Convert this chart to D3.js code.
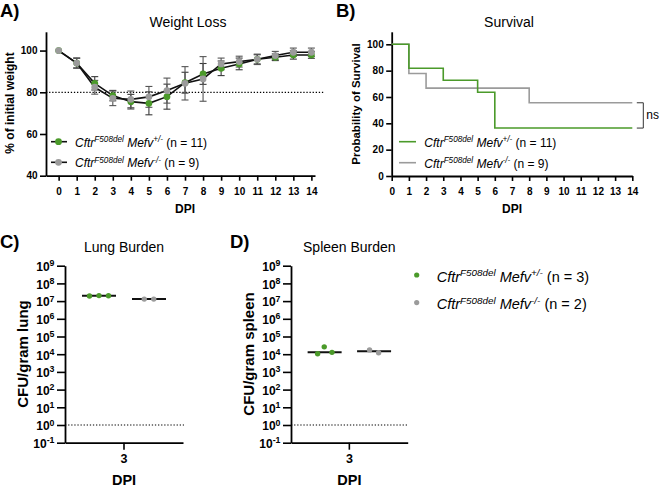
<!DOCTYPE html>
<html><head><meta charset="utf-8">
<script src="https://cdn.jsdelivr.net/npm/d3@7"></script>
<style>html,body{margin:0;padding:0;background:#fff;}svg{display:block;}</style>
</head><body>
<svg id="chart" width="660" height="488"></svg>
<script>
// ---------- DATA ----------
const days = [0,1,2,3,4,5,6,7,8,9,10,11,12,13,14];
const weightHet   = [100, 94, 84.3, 78.4, 75.5, 74.7, 77.9, 84.6, 88.8, 91.5, 93.6, 95.8, 96.8, 97.9, 97.9];
const weightHetSD = [0, 2.3, 3.2, 2.5, 3.5, 5.5, 6, 5, 5, 3.5, 2.8, 2.2, 1.6, 2, 1.6];
const weightKo    = [100, 94, 82.4, 77.1, 76.6, 77.8, 80.8, 84.3, 86.4, 93.6, 94.7, 95.8, 97.6, 99.2, 99.2];
const weightKoSD  = [0, 2.5, 3.3, 3.5, 4, 5, 6, 8, 10.7, 2.8, 2.6, 2.5, 2, 2, 2];
const weightTicksY = [40, 60, 80, 100];

const survHetT = [0, 1, 3, 5, 6, 14];
const survHetV = [100, 81.8, 72.7, 63.6, 36.4, 36.4];
const survKoT  = [0, 1, 2, 8, 14];
const survKoV  = [100, 77.8, 66.7, 55.6, 55.6];
const survTicksY = [0, 20, 40, 60, 80, 100];

const burdenDPI = ["3"];
const groups = ["het", "ko"];
const lungHet = [2.0e7, 2.05e7, 1.95e7];
const lungKo  = [1.3e7, 1.3e7];
const spleenHet = [1.07e4, 2.6e4, 1.27e4];
const spleenKo  = [1.2e4, 1.75e4];
const logExponents = [-1,0,1,2,3,4,5,6,7,8,9];

const legendAB = [{g:"+/-", n:"(n = 11)"}, {g:"-/-", n:"(n = 9)"}];
const legendD  = [{g:"+/-", n:"(n = 3)"}, {g:"-/-", n:"(n = 2)"}];

// ---------- STYLE ----------
const FONT = "'Liberation Sans', Arial, Helvetica, sans-serif";
const GREEN = "#4b9a2a", GRAY = "#9b9b9b";
const svg = d3.select("#chart").style("font-family", FONT);

function styleAxis(g, fs) {
  g.selectAll("path.domain").attr("stroke", "#000").attr("stroke-width", 1.8);
  g.selectAll(".tick line").attr("stroke", "#000").attr("stroke-width", 1.6);
  g.selectAll(".tick text").attr("font-family", FONT).attr("font-weight", "bold")
    .attr("font-size", fs).attr("fill", "#000");
}
function geno(textSel, fs, sup, n) {
  const s = fs * 0.68, sh = fs * 0.36;
  textSel.append("tspan").attr("font-style", "italic").text("Cftr");
  textSel.append("tspan").attr("font-style", "italic").attr("font-size", s).attr("dy", -sh).text("F508del");
  textSel.append("tspan").attr("font-style", "italic").attr("dy", sh).text("\u00a0Mefv");
  textSel.append("tspan").attr("font-style", "italic").attr("font-size", s).attr("dy", -sh).text(sup);
  textSel.append("tspan").attr("dy", sh).text("\u00a0" + n);
}
function label(x, y, txt, fs, weight, anchor, rot) {
  const t = svg.append("text").attr("x", x).attr("y", y).attr("font-size", fs)
    .attr("font-weight", weight || "normal").attr("text-anchor", anchor || "middle").attr("fill", "#000").text(txt);
  if (rot) t.attr("transform", `rotate(-90 ${x} ${y})`);
  return t;
}

// ---------- PANEL A: Weight loss ----------
{
  const x = d3.scaleLinear().domain([-0.7, 14.2]).range([46, 315]);
  const y = d3.scaleLinear().domain([40, 109]).range([175.7, 31.8]);
  label(0, 16.7, "A)", 18.5, "bold", "start");
  label(188, 26.5, "Weight Loss", 14);
  // dotted 80 line
  svg.append("line").attr("x1", x.range()[0]).attr("x2", 325).attr("y1", y(80)).attr("y2", y(80))
    .attr("stroke", "#000").attr("stroke-width", 1.2).attr("stroke-dasharray", "1.3,1.8");
  const gx = svg.append("g").attr("transform", `translate(0,${y.range()[0]})`)
    .call(d3.axisBottom(x).tickValues(days).tickSize(5).tickSizeOuter(0).tickPadding(7));
  styleAxis(gx, 10);
  const gy = svg.append("g").attr("transform", `translate(${x.range()[0]},0)`)
    .call(d3.axisLeft(y).tickValues(weightTicksY).tickSize(6).tickSizeOuter(0).tickPadding(2.5));
  styleAxis(gy, 10);
  label(185, 213.3, "DPI", 12, "bold");
  label(13.5, 103, "% of initial weight", 12, "bold", "middle", true);

  const series = [
    {m: weightHet, sd: weightHetSD, col: GREEN, ecol: "#3a3a3a"},
    {m: weightKo,  sd: weightKoSD,  col: GRAY,  ecol: "#555"}
  ];
  const line = d3.line().x((d, i) => x(days[i])).y(d => y(d));
  series.forEach(s => {
    const eb = svg.append("g").attr("stroke", s.ecol).attr("stroke-width", 1.1);
    days.forEach((dd, i) => {
      if (!s.sd[i]) return;
      const lo = y(s.m[i] - s.sd[i]), hi = y(s.m[i] + s.sd[i]), cx = x(dd);
      eb.append("line").attr("x1", cx).attr("x2", cx).attr("y1", lo).attr("y2", hi);
      eb.append("line").attr("x1", cx - 3.5).attr("x2", cx + 3.5).attr("y1", lo).attr("y2", lo);
      eb.append("line").attr("x1", cx - 3.5).attr("x2", cx + 3.5).attr("y1", hi).attr("y2", hi);
    });
  });
  series.forEach(s => {
    svg.append("path").datum(s.m).attr("d", line).attr("fill", "none").attr("stroke", "#111").attr("stroke-width", 1.6);
  });
  series.forEach(s => {
    svg.append("g").selectAll("circle").data(s.m).join("circle")
      .attr("cx", (d, i) => x(days[i])).attr("cy", d => y(d)).attr("r", 3.4).attr("fill", s.col);
  });
  // legend
  legendAB.forEach((L, i) => {
    const ly = 141.7 + i * 20.6;
    svg.append("line").attr("x1", 51).attr("x2", 67).attr("y1", ly).attr("y2", ly).attr("stroke", "#111").attr("stroke-width", 1.6);
    svg.append("circle").attr("cx", 58.5).attr("cy", ly).attr("r", 3.4).attr("fill", i ? GRAY : GREEN);
    const t = svg.append("text").attr("x", 75).attr("y", ly + 5).attr("font-size", 12).attr("fill", "#000");
    geno(t, 12, L.g, L.n);
  });
}

// ---------- PANEL B: Survival ----------
{
  const x = d3.scaleLinear().domain([0, 14]).range([391.7, 632.3]);
  const y = d3.scaleLinear().domain([0, 109.5]).range([176, 31.8]);
  label(336, 16.7, "B)", 18.5, "bold", "start");
  label(509, 26.5, "Survival", 14);
  const gx = svg.append("g").attr("transform", `translate(0,${y.range()[0]})`)
    .call(d3.axisBottom(x).tickValues(days).tickSize(5).tickSizeOuter(0).tickPadding(7));
  styleAxis(gx, 10);
  const gy = svg.append("g").attr("transform", `translate(${x.range()[0]},0)`)
    .call(d3.axisLeft(y).tickValues(survTicksY).tickSize(5.5).tickSizeOuter(0).tickPadding(2.5));
  styleAxis(gy, 10);
  label(512, 213.3, "DPI", 12, "bold");
  label(360, 104, "Probability of Survival", 11.5, "bold", "middle", true);

  const step = d3.line().x(d => x(d[0])).y(d => y(d[1])).curve(d3.curveStepAfter);
  svg.append("path").datum(survKoT.map((t, i) => [t, survKoV[i]])).attr("d", step)
    .attr("fill", "none").attr("stroke", GRAY).attr("stroke-width", 1.6);
  svg.append("path").datum(survHetT.map((t, i) => [t, survHetV[i]])).attr("d", step)
    .attr("fill", "none").attr("stroke", GREEN).attr("stroke-width", 1.6);
  // ns bracket
  const yTop = y(survKoV[survKoV.length - 1]), yBot = y(survHetV[survHetV.length - 1]);
  const bx = x(14) + 11;
  svg.append("path").attr("d", `M${bx - 6.5},${yTop}H${bx}V${yBot}H${bx - 6.5}`)
    .attr("fill", "none").attr("stroke", "#333").attr("stroke-width", 1);
  label(bx + 3, (yTop + yBot) / 2 + 4, "ns", 12, "normal", "start");
  legendAB.forEach((L, i) => {
    const ly = 141.7 + i * 21;
    svg.append("line").attr("x1", 399).attr("x2", 416).attr("y1", ly).attr("y2", ly)
      .attr("stroke", i ? GRAY : GREEN).attr("stroke-width", 1.6);
    const t = svg.append("text").attr("x", 424.3).attr("y", ly + 5).attr("font-size", 12).attr("fill", "#000");
    geno(t, 12, L.g, L.n);
  });
}

// ---------- PANELS C & D: Burden ----------
function swarm(vals, y, minDist) {
  const order = vals.map((v, i) => i).sort((a, b) => vals[b] - vals[a]);
  const placed = [];
  const off = new Array(vals.length);
  order.forEach(i => {
    const py = y(vals[i]);
    let best = null;
    const cands = [0];
    placed.forEach(p => {
      const dy = Math.abs(p.y - py);
      if (dy < minDist) { const dx = Math.sqrt(minDist * minDist - dy * dy) + 0.01; cands.push(p.x + dx, p.x - dx); }
    });
    cands.sort((a, b) => Math.abs(a) - Math.abs(b) || b - a);
    for (const c of cands) {
      if (placed.every(p => Math.hypot(p.x - c, p.y - py) >= minDist - 0.001)) { best = c; break; }
    }
    off[i] = best; placed.push({x: best, y: py});
  });
  const mean = d3.mean(off);
  return off.map(o => o - mean);
}

function burden(opt) {
  const y = d3.scaleLog().domain([0.1, 1e9]).range([442.7, 265.7]);
  const xb = d3.scaleBand().domain(burdenDPI).range([opt.x0, opt.x1]);
  const xg = d3.scalePoint().domain(groups).range([0, xb.bandwidth()]).padding(0.68);
  label(opt.lx, 248.3, opt.letter, 18.5, "bold", "start");
  label((opt.x0 + opt.x1) / 2, 251.7, opt.title, 14);
  svg.append("line").attr("x1", opt.x0).attr("x2", opt.x1 + 1).attr("y1", y(1)).attr("y2", y(1))
    .attr("stroke", "#000").attr("stroke-width", 1.2).attr("stroke-dasharray", "1.3,1.8");
  const gx = svg.append("g").attr("transform", `translate(0,${y.range()[0]})`)
    .call(d3.axisBottom(xb).tickSize(7).tickSizeOuter(0).tickPadding(4.5));
  styleAxis(gx, 12.5);
  const gy = svg.append("g").attr("transform", `translate(${opt.x0},0)`)
    .call(d3.axisLeft(y).tickValues(logExponents.map(e => Math.pow(10, e))).tickSize(8).tickSizeOuter(0).tickFormat(""));
  styleAxis(gy, 12);
  gy.selectAll(".tick").each(function(d, i) {
    const t = d3.select(this).append("text").attr("x", -10.5).attr("y", 4.8)
      .attr("text-anchor", "end").attr("font-weight", "bold").attr("font-size", 12).attr("fill", "#000");
    t.append("tspan").text("10");
    t.append("tspan").attr("font-size", 8.8).attr("dy", -4.8).text(logExponents[i]);
  });
  label((opt.x0 + opt.x1) / 2, 485, "DPI", 14.5, "bold");
  label(opt.ylx, 354, opt.ylabel, 15, "bold", "middle", true);

  const cx = xb("3");
  [{v: opt.het, col: GREEN, g: "het"}, {v: opt.ko, col: GRAY, g: "ko"}].forEach(s => {
    const gc = cx + xg(s.g);
    const med = d3.median(s.v);
    svg.append("line").attr("x1", gc - 17).attr("x2", gc + 17).attr("y1", y(med)).attr("y2", y(med))
      .attr("stroke", "#111").attr("stroke-width", 2);
    const offs = swarm(s.v, y, 9.5);
    svg.append("g").selectAll("circle").data(s.v).join("circle")
      .attr("cx", (d, i) => gc + offs[i]).attr("cy", d => y(d)).attr("r", 2.7).attr("fill", s.col);
  });
}
burden({x0: 65, x1: 183, lx: 0, letter: "C)", title: "Lung Burden", ylabel: "CFU/gram lung", ylx: 27.5, het: lungHet, ko: lungKo});
burden({x0: 291, x1: 407.7, lx: 230, letter: "D)", title: "Spleen Burden", ylabel: "CFU/gram spleen", ylx: 254, het: spleenHet, ko: spleenKo});

// legend D
legendD.forEach((L, i) => {
  const ly = 275 + i * 27.6;
  svg.append("circle").attr("cx", 416.7).attr("cy", ly).attr("r", 2.6).attr("fill", i ? GRAY : GREEN);
  const t = svg.append("text").attr("x", 436.7).attr("y", ly + 6.5).attr("font-size", 14.5).attr("fill", "#000");
  geno(t, 14.5, L.g, L.n);
});
</script>
</body></html>
